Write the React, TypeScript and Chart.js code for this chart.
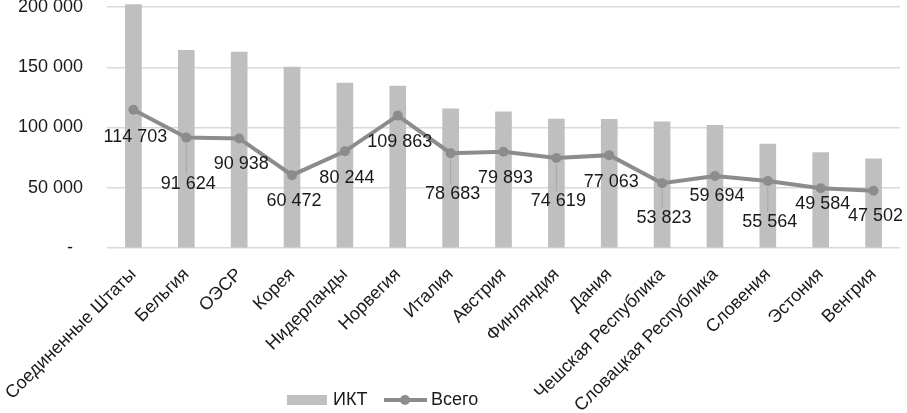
import React, { useEffect, useRef } from "react";
import { Chart, registerables } from "chart.js";

Chart.register(...registerables);

const categories = [
  "Соединенные Штаты",
  "Бельгия",
  "ОЭСР",
  "Корея",
  "Нидерланды",
  "Норвегия",
  "Италия",
  "Австрия",
  "Финляндия",
  "Дания",
  "Чешская Республика",
  "Словацкая Республика",
  "Словения",
  "Эстония",
  "Венгрия",
];

const ictValues = [
  202000, 164000, 162500, 150200, 136900, 134400, 115400, 113100, 107000,
  106800, 104800, 101800, 86300, 79100, 73900,
];

const totalValues = [
  114703, 91624, 90938, 60472, 80244, 109863, 78683, 79893, 74619, 77063,
  53823, 59694, 55564, 49584, 47502,
];

const yTicks = [0, 50000, 100000, 150000, 200000];

// layout: vertical distance (px) from point to label centre
const labelOffsets = [27, 46, 26, 26, 27, 26, 41, 26, 43, 27, 35, 20, 41, 16, 25];

const FONT = "'Liberation Sans', Arial, sans-serif";
const BAR_COLOR = "#bfbfbf";
const LINE_COLOR = "#8c8c8c";
const TEXT_COLOR = "#1a1a1a";

const fmt = (v: number) =>
  String(Math.round(v)).replace(/\B(?=(\d{3})+(?!\d))/g, " ");

const labelsPlugin = {
  id: "lineLabels",
  afterDatasetsDraw(chart: any) {
    const ctx = chart.ctx;
    const meta = chart.getDatasetMeta(1);
    const data = chart.data.datasets[1].data as number[];
    ctx.save();
    ctx.font = `18px ${FONT}`;
    ctx.textAlign = "center";
    ctx.textBaseline = "middle";
    meta.data.forEach((pt: any, i: number) => {
      const off = labelOffsets[i] ?? 26;
      const x = pt.x + 2;
      const y = pt.y + off;
      if (off > 30) {
        ctx.strokeStyle = "#a6a6a6";
        ctx.lineWidth = 1;
        ctx.beginPath();
        ctx.moveTo(pt.x, pt.y + 6);
        ctx.lineTo(pt.x, y - 10);
        ctx.stroke();
      }
      ctx.fillStyle = TEXT_COLOR;
      ctx.fillText(fmt(data[i]), x, y);
    });
    ctx.restore();
  },
};

const legendPlugin = {
  id: "customLegend",
  afterDraw(chart: any) {
    const ctx = chart.ctx;
    const ds = chart.data.datasets;
    const y = 400;
    ctx.save();
    ctx.font = `18px ${FONT}`;
    ctx.textBaseline = "middle";
    ctx.textAlign = "left";
    ctx.fillStyle = ds[0].backgroundColor;
    ctx.fillRect(287, y - 5, 40, 10);
    ctx.fillStyle = TEXT_COLOR;
    ctx.fillText(ds[0].label, 333, y);
    ctx.strokeStyle = ds[1].borderColor;
    ctx.lineWidth = 4;
    ctx.beginPath();
    ctx.moveTo(384, y);
    ctx.lineTo(427, y);
    ctx.stroke();
    ctx.fillStyle = ds[1].borderColor;
    ctx.beginPath();
    ctx.arc(405, y, 5, 0, Math.PI * 2);
    ctx.fill();
    ctx.fillStyle = TEXT_COLOR;
    ctx.fillText(ds[1].label, 431, y);
    ctx.restore();
  },
};

export default function App() {
  const ref = useRef<HTMLCanvasElement>(null);

  useEffect(() => {
    document.body.style.margin = "0";
    const chart = new Chart(ref.current!, {
      type: "bar",
      data: {
        labels: categories,
        datasets: [
          {
            type: "bar",
            label: "ИКТ",
            data: ictValues,
            backgroundColor: BAR_COLOR,
            barThickness: 16,
            clip: false as any,
            order: 2,
          },
          {
            type: "line",
            label: "Всего",
            data: totalValues,
            borderColor: LINE_COLOR,
            backgroundColor: LINE_COLOR,
            borderWidth: 4,
            pointRadius: 5,
            pointBackgroundColor: LINE_COLOR,
            pointBorderWidth: 0,
            tension: 0,
            order: 1,
          },
        ],
      },
      options: {
        animation: false,
        responsive: false,
        maintainAspectRatio: false,
        layout: { padding: { top: 7, right: 7, left: 0, bottom: 0 } },
        plugins: {
          legend: { display: false },
          tooltip: { enabled: false },
        },
        scales: {
          x: {
            grid: { display: false },
            border: { display: false },
            ticks: {
              color: TEXT_COLOR,
              font: { family: FONT, size: 18 },
              maxRotation: 45,
              minRotation: 45,
              autoSkip: false,
              padding: 8,
            },
            afterFit(scale: any) {
              scale.height = 165;
              scale.paddingTop = 0;
              scale.paddingBottom = 0;
              scale.paddingLeft = 0;
              scale.paddingRight = 0;
            },
          },
          y: {
            min: 0,
            max: 200000,
            afterBuildTicks(scale: any) {
              scale.ticks = yTicks.map((v) => ({ value: v }));
            },
            grid: { color: "#d9d9d9", lineWidth: 1.5, drawTicks: false },
            border: { display: false },
            ticks: {
              color: TEXT_COLOR,
              font: { family: FONT, size: 18 },
              padding: 24,
              callback: (v: any) => (Number(v) === 0 ? "-  " : fmt(Number(v))),
            },
            afterFit(scale: any) {
              scale.width = 107;
              scale.paddingTop = 0;
              scale.paddingBottom = 0;
              scale.paddingLeft = 0;
              scale.paddingRight = 0;
            },
          },
        },
      },
      plugins: [labelsPlugin, legendPlugin],
    });
    return () => chart.destroy();
  }, []);

  return (
    <div style={{ width: 907, height: 413, background: "#fff" }}>
      <canvas ref={ref} width={907} height={413} style={{ display: "block" }} />
    </div>
  );
}
